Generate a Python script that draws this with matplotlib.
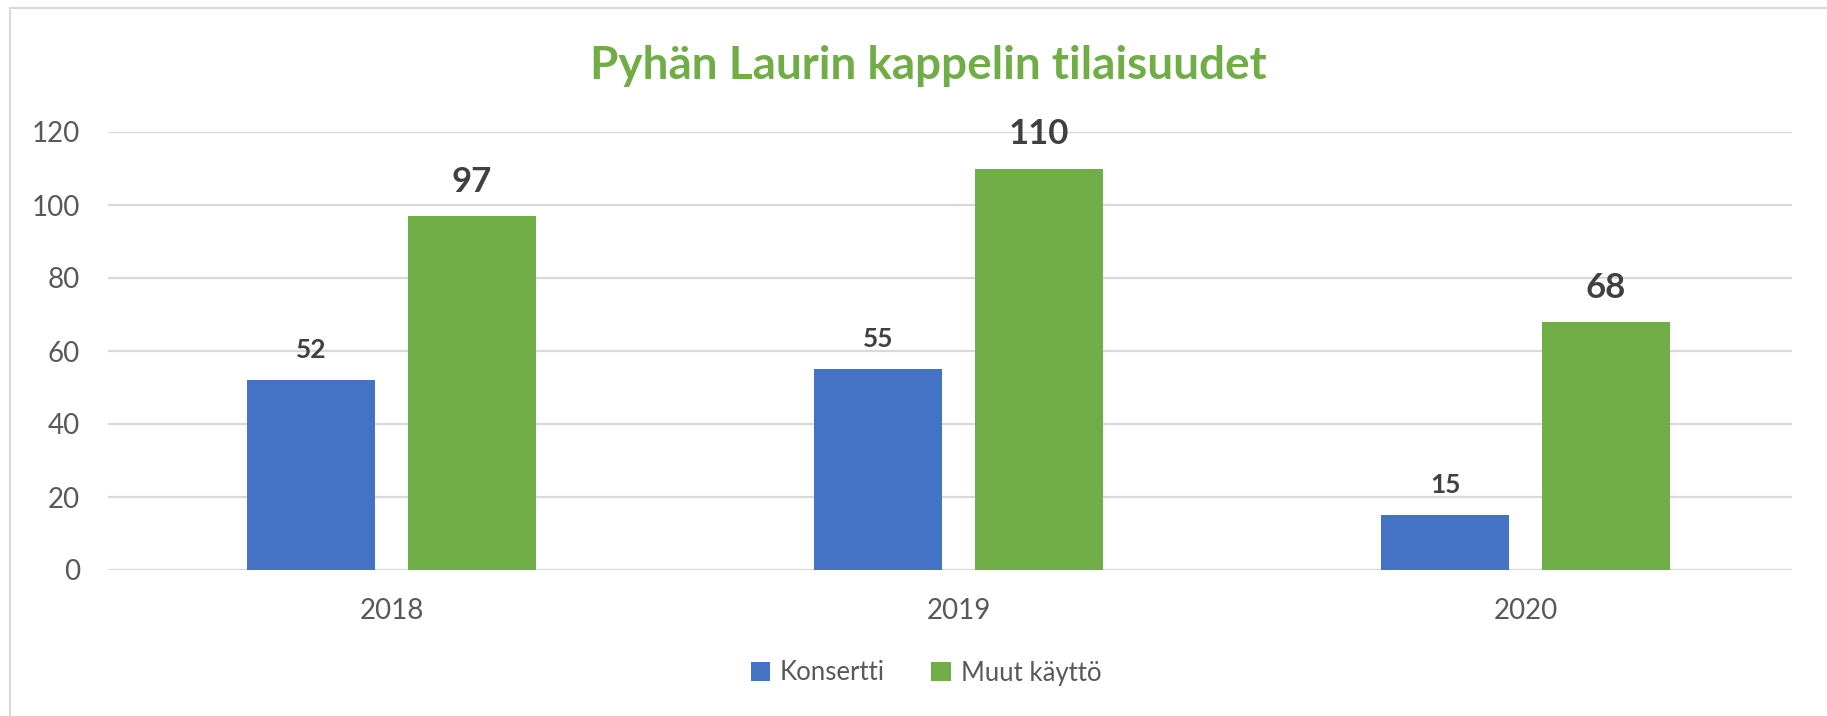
import matplotlib.pyplot as plt
import numpy as np
from matplotlib.patches import Rectangle

########## Data ##########
years = ["2018", "2019", "2020"]
konsertti = [52, 55, 15]
muut_kaytto = [97, 110, 68]
series_names = ["Konsertti", "Muut käyttö"]
title = "Pyhän Laurin kappelin tilaisuudet"
##########################

blue = "#4472C4"
green = "#70AD47"
grid_col = "#D9D9D9"
text_col = "#595959"
label_col = "#404040"

plt.rcParams['font.family'] = ['Lato', 'DejaVu Sans']

fig = plt.figure(figsize=(18.27, 7.16), dpi=100)
ax = fig.add_axes([108 / 1827, 1 - 570 / 716, (1792 - 108) / 1827, (570 - 132) / 716])

x = np.arange(len(years))
w = 0.226
off = 0.1415

b1 = ax.bar(x - off, konsertti, w, color=blue, label=series_names[0], zorder=3)
b2 = ax.bar(x + off, muut_kaytto, w, color=green, label=series_names[1], zorder=3)

# value labels above bars
for rect, v in zip(b1, konsertti):
    ax.annotate(str(v), (rect.get_x() + rect.get_width() / 2, v), xytext=(0, 13),
                textcoords='offset points', ha='center', va='bottom',
                fontsize=19, fontweight='bold', color=label_col)
for rect, v in zip(b2, muut_kaytto):
    ax.annotate(str(v), (rect.get_x() + rect.get_width() / 2, v), xytext=(0, 13),
                textcoords='offset points', ha='center', va='bottom',
                fontsize=25, fontweight='bold', color=label_col)

ax.set_xlim(-0.5, 2.47)
ax.set_ylim(0, 120)
ax.set_yticks(range(0, 121, 20))
ax.set_xticks(x)
ax.set_xticklabels(years)
ax.yaxis.grid(True, color=grid_col, linewidth=1.6, zorder=0)
ax.set_axisbelow(True)
for s in ax.spines.values():
    s.set_visible(False)
ax.tick_params(axis='both', length=0, labelsize=20, colors=text_col)
ax.tick_params(axis='y', pad=20)
ax.tick_params(axis='x', pad=20)

fig.text(928 / 1827, 1 - 66 / 716, title, ha='center', va='center',
         fontsize=33, fontweight='bold', color=green)

fig.legend(loc='center', bbox_to_anchor=(926 / 1827, 1 - 673 / 716), ncol=2,
           frameon=False, fontsize=18.5, handlelength=0.75, handleheight=0.75,
           handletextpad=0.4, columnspacing=1.8, labelcolor=text_col)

# outer chart frame
fig.patches.append(Rectangle((10 / 1827, -0.02), 1.1, 1 - 8 / 716 + 0.02,
                             transform=fig.transFigure, fill=False,
                             edgecolor=grid_col, linewidth=1.5))

fig.savefig("out.png", dpi=100)
